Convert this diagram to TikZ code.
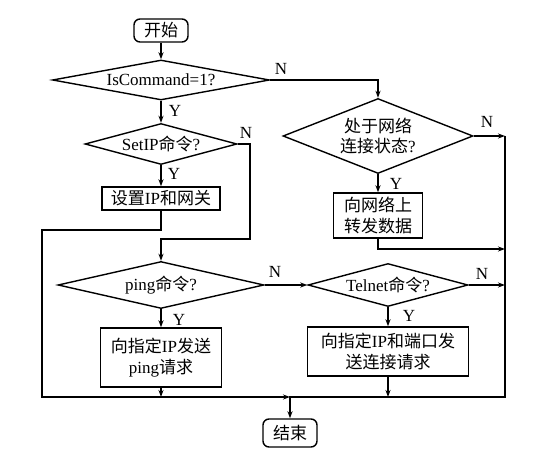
\documentclass[tikz,border=0pt]{standalone}
\usepackage{fontspec}
\setmainfont{Liberation Serif}
\newfontfamily\cjk{Noto Sans CJK SC}
\usetikzlibrary{shapes.geometric,arrows.meta}
\newcommand\zh[1]{{\cjk #1}}
\begin{document}
\begin{tikzpicture}[x=1pt,y=-1pt,
  every node/.style={font=\fontsize{17}{20.5}\selectfont},
  arr/.style={line width=1.2pt,-{Stealth[length=7pt,width=5pt]}},
  term/.style={draw,line width=1.4pt,rounded corners=6pt,inner sep=0pt},
  box/.style={draw,line width=1.4pt,inner sep=0pt,align=center},
  dec/.style={draw,diamond,line width=1.4pt,inner sep=0pt,align=center},
  lbl/.style={inner sep=0pt}]
\fill[white] (0,0) rectangle (536,457);
\useasboundingbox (0,0) rectangle (536,457);
% nodes
\node[term,minimum width=54pt,minimum height=23pt] (start) at (161,30.5) {\zh{开始}};
\node[dec,minimum width=217pt,minimum height=40pt,shape aspect=5.4] (d1) at (161,80) {IsCommand=1?};
\node[dec,minimum width=152pt,minimum height=41pt,shape aspect=3.7] (d2) at (161,144) {SetIP\zh{命令}?};
\node[box,minimum width=118pt,minimum height=23pt] (b1) at (161,198.5) {\zh{设置}IP\zh{和网关}};
\node[dec,minimum width=190pt,minimum height=75pt,shape aspect=2.53] (d3) at (378,136) {\zh{处于网络}\\\zh{连接状态}?};
\node[box,minimum width=89pt,minimum height=45pt] (b2) at (378,215.5) {\zh{向网络上}\\\zh{转发数据}};
\node[dec,minimum width=206pt,minimum height=47pt,shape aspect=4.4] (d4) at (161,285) {ping\zh{命令}?};
\node[box,minimum width=121pt,minimum height=59pt] (b3) at (161,357.5) {\zh{向指定}IP\zh{发送}\\ping\zh{请求}};
\node[dec,minimum width=160pt,minimum height=43pt,shape aspect=3.7] (d5) at (388,285) {Telnet\zh{命令}?};
\node[box,minimum width=161pt,minimum height=49pt] (b4) at (388,351.5) {\zh{向指定}IP\zh{和端口发}\\\zh{送连接请求}};
\node[term,minimum width=54pt,minimum height=28pt] (end) at (290,433) {\zh{结束}};
% helper coordinates
\coordinate (c1) at (250,239);
\coordinate (c2) at (42,230);
\coordinate (c3) at (378,249);
\coordinate (rr) at (505,397);
\coordinate (j) at (290,397);
% connectors
\draw[arr] (start) -- (d1);
\draw[arr] (d1.east) -| (d3.north);
\node[lbl] at (281,69) {N};
\draw[arr] (d1) -- (d2);
\node[lbl] at (175,111) {Y};
\draw[arr] (d2.east) -| (c1) -| (d4.north);
\node[lbl] at (246,133) {N};
\draw[arr] (d2) -- (b1);
\node[lbl] at (174,174) {Y};
\draw[arr] (b1.south) |- (c2) |- (j);
\draw[arr] (d3.east) -- (d3.east -| rr);
\node[lbl] at (487,122) {N};
\draw[arr] (d3) -- (b2);
\node[lbl] at (396,184) {Y};
\draw[arr] (b2.south) -- (c3) -- (c3 -| rr);
\draw[arr] (d4.east) -- (d5.west);
\node[lbl] at (275,272) {N};
\draw[arr] (d4) -- (b3);
\node[lbl] at (179,320) {Y};
\draw[arr] (d5.east) -- (d5.east -| rr);
\node[lbl] at (482,274) {N};
\draw[arr] (d5) -- (b4);
\node[lbl] at (409,316) {Y};
\draw[arr] (b3.south) -- (b3.south |- j);
\draw[arr] (b4.south) -- (b4.south |- j);
\draw[arr] (d3.east -| rr) -- (rr) -- (j) -- (end.north);
\end{tikzpicture}
\end{document}
